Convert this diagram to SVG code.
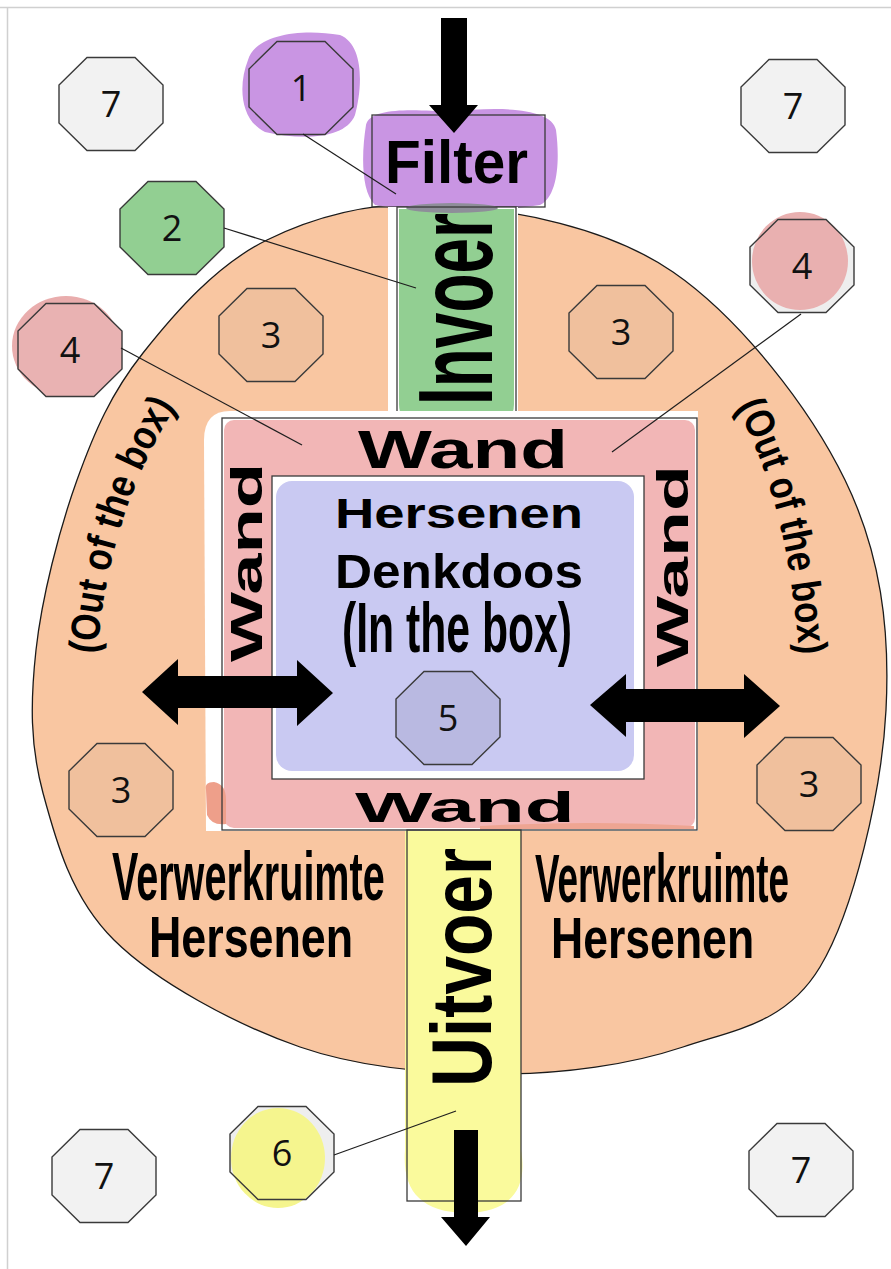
<svg xmlns="http://www.w3.org/2000/svg" width="891" height="1269" viewBox="0 0 891 1269">
<style>
.oct{stroke:#3a3a3a;stroke-width:1.4}
.num{font-family:"Open Sans","Noto Sans",sans-serif;font-size:36px;fill:#111;text-anchor:middle}
.lead{stroke:#1e1e1e;stroke-width:1.2;fill:none}
.box{fill:none;stroke:#3a3a3a;stroke-width:1.3}
.big{font-family:"Liberation Sans",Arial,sans-serif;font-weight:bold;fill:#000}
.arrow{fill:#000}
.peach{fill:#f9c6a1}
.pink{fill:#f2b6b6}
</style>
<defs>
<polygon id="octagon" points="-24,-46.5 24,-46.5 52,-19 52,19 24,46.5 -24,46.5 -52,19 -52,-19"/>
<path id="outL" d="M97,658 Q108,500 192,382"/>
<path id="outR" d="M733,402 Q790,500 800,670"/>
</defs>

<rect width="891" height="1269" fill="#fff"/>
<path d="M0,7.5H891M7.5,7V1269" stroke="#d0d0d0" stroke-width="1.5" fill="none"/>

<!-- head outline with painted fill -->
<g id="head">
<path class="peach" d="M446,205 C513.7,210.3 606.5,226.2 673,272 C739.5,317.8 809.5,407 845,480 C880.5,553 890.2,628.8 886,710 C881.8,791.2 853.8,910.8 820,967 C786.2,1023.2 736.3,1029.2 683,1047 C629.7,1064.8 563.8,1074 500,1074 C436.2,1074 364.3,1069.3 300,1047 C235.7,1024.7 156.8,982.3 114,940 C71.2,897.7 56,841.3 43,793 C30,744.7 30.3,702.2 36,650 C41.7,597.8 59.2,529.5 77,480 C94.8,430.5 111.3,393 143,353 C174.7,313 216.5,264.7 267,240 C317.5,215.3 378.3,199.7 446,205 Z" stroke="#1a1a1a" stroke-width="1.3"/>
<text class="big" font-size="41"><textPath href="#outL" startOffset="4" textLength="262" lengthAdjust="spacingAndGlyphs">(Out of the box)</textPath></text>
<text class="big" font-size="41"><textPath href="#outR" startOffset="6" textLength="258" lengthAdjust="spacingAndGlyphs">(Out of the box)</textPath></text>
<text class="big" transform="translate(112,900) scale(0.582,1)" font-size="68">Verwerkruimte</text>
<text class="big" transform="translate(149,957) scale(0.786,1)" font-size="57">Hersenen</text>
<text class="big" transform="translate(535,902) scale(0.542,1)" font-size="68">Verwerkruimte</text>
<text class="big" transform="translate(551,958) scale(0.782,1)" font-size="57">Hersenen</text>
</g>

<!-- filter at the entrance -->
<g id="filter">
<path d="M366,125 C370,106 420,110 450,112 C500,106 552,108 556,130 C560,160 558,196 540,205 C500,212 420,212 375,205 C360,190 362,150 366,125Z" fill="#c995e3"/>
<rect class="box" x="372" y="115" width="173" height="92"/>
<text class="big" transform="translate(385,183) scale(0.943,1)" font-size="62">Filter</text>
</g>

<!-- input channel -->
<g id="invoer">
<rect x="388" y="207" width="130" height="210" fill="#fff"/>
<path d="M399,209 H514 V404 Q514,423 495,423 H416 Q399,423 399,404 Z" fill="#92cf92"/>
<ellipse cx="452" cy="208" rx="46" ry="5" fill="#8e8e99"/>
<ellipse cx="455" cy="419" rx="55" ry="5" fill="#86aa80"/>
<rect class="box" x="397" y="207" width="119" height="210"/>
<text class="big" transform="translate(492,405) rotate(-90) scale(0.609,1)" font-size="105">Invoer</text>
</g>

<!-- wall around the thinking box -->
<g id="wand">
<path d="M204,440 Q204,411 230,411 H698 V831 H206 Z" fill="#fff"/>
<rect class="pink" x="224" y="420" width="471" height="408" rx="10"/>
<path d="M206,790 Q204,782 214,782 Q226,784 226,800 L226,824 Q212,826 207,815 Z" fill="#ee9f8a"/>
<path d="M480,826 Q590,820 694,826 L694,829 H480 Z" fill="#eea592"/>
<rect class="box" x="222" y="418" width="475" height="412"/>
<text class="big" transform="translate(358,468) scale(1.449,1)" font-size="54">Wand</text>
<text class="big" transform="translate(355,822) scale(1.905,1)" font-size="43">Wand</text>
<text class="big" transform="translate(262,662) rotate(-90) scale(1.649,1)" font-size="45">Wand</text>
<text class="big" transform="translate(688,667) rotate(-90) scale(1.711,1)" font-size="44">Wand</text>
</g>

<!-- thinking box -->
<g id="denkdoos">
<rect x="272" y="476" width="372" height="303" fill="#fff"/>
<rect x="276" y="481" width="358" height="290" rx="16" fill="#c9c9f2"/>
<rect class="box" x="272" y="476" width="372" height="303"/>
<text class="big" transform="translate(335,528) scale(1.296,1)" font-size="42">Hersenen</text>
<text class="big" transform="translate(335,588) scale(1.069,1)" font-size="48">Denkdoos</text>
<text class="big" transform="translate(342,652) scale(0.61,1)" font-size="70">(In the box)</text>
</g>

<!-- output channel -->
<g id="uitvoer">
<path d="M405,831 H521 V1150 C528,1190 510,1212 466,1213 C420,1212 402,1190 405,1150 Z" fill="#fafa9c"/>
<rect class="box" x="407" y="830" width="114" height="371"/>
<text class="big" transform="translate(491,1087) rotate(-90) scale(0.816,1)" font-size="85">Uitvoer</text>
</g>

<!-- numbered markers -->
<g id="m1">
<path d="M248,60 C255,35 300,28 340,35 C365,45 362,90 355,115 C345,140 300,140 265,132 C240,120 238,85 248,60Z" fill="#c995e3"/>
<use href="#octagon" x="301" y="88" class="oct" fill="#c995e3"/>
<text class="num" x="301" y="101">1</text>
</g>
<g id="m2">
<use href="#octagon" x="172" y="228" class="oct" fill="#92cf92"/>
<text class="num" x="172" y="241">2</text>
</g>
<g id="m3a">
<use href="#octagon" x="271" y="335" class="oct" fill="#f0c09d"/>
<text class="num" x="271" y="348">3</text>
</g>
<g id="m3b">
<use href="#octagon" x="621" y="332" class="oct" fill="#f0c09d"/>
<text class="num" x="621" y="345">3</text>
</g>
<g id="m3c">
<use href="#octagon" x="121" y="790" class="oct" fill="#f0c09d"/>
<text class="num" x="121" y="803">3</text>
</g>
<g id="m3d">
<use href="#octagon" x="809" y="784" class="oct" fill="#f0c09d"/>
<text class="num" x="809" y="797">3</text>
</g>
<g id="m4a">
<ellipse cx="66" cy="346" rx="54" ry="50" fill="#e9adad"/>
<use href="#octagon" x="70" y="350" class="oct" fill="#e9b2b2"/>
<text class="num" x="70" y="363">4</text>
</g>
<g id="m4b">
<use href="#octagon" x="802" y="266" fill="#eeeeee"/>
<ellipse cx="800" cy="261" rx="48" ry="49" fill="#e9b0b0"/>
<use href="#octagon" x="802" y="266" class="oct" fill="none"/>
<text class="num" x="802" y="279">4</text>
</g>
<g id="m5">
<use href="#octagon" x="448" y="718" class="oct" fill="#b9b9e1"/>
<text class="num" x="448" y="731">5</text>
</g>
<g id="m6">
<use href="#octagon" x="282" y="1153" fill="#eeeeee"/>
<ellipse cx="278" cy="1158" rx="47" ry="50" fill="#f5f58e"/>
<use href="#octagon" x="282" y="1153" class="oct" fill="none"/>
<text class="num" x="282" y="1166">6</text>
</g>
<g id="m7a">
<use href="#octagon" x="111" y="104" class="oct" fill="#f2f2f2"/>
<text class="num" x="111" y="117">7</text>
</g>
<g id="m7b">
<use href="#octagon" x="793" y="106" class="oct" fill="#f2f2f2"/>
<text class="num" x="793" y="119">7</text>
</g>
<g id="m7c">
<use href="#octagon" x="104" y="1176" class="oct" fill="#f2f2f2"/>
<text class="num" x="104" y="1189">7</text>
</g>
<g id="m7d">
<use href="#octagon" x="801" y="1170" class="oct" fill="#f2f2f2"/>
<text class="num" x="801" y="1183">7</text>
</g>

<!-- leader lines and flow arrows -->
<g id="connectors">
<line class="lead" x1="303" y1="134" x2="396" y2="194"/>
<line class="lead" x1="224" y1="228" x2="416" y2="288"/>
<line class="lead" x1="121" y1="348" x2="302" y2="445"/>
<line class="lead" x1="801" y1="314" x2="612" y2="452"/>
<line class="lead" x1="334" y1="1155" x2="456" y2="1111"/>
<polygon class="arrow" points="441,18 467,18 467,105 478,105 454,133 429,105 441,105"/>
<polygon class="arrow" points="454,1130 478,1130 478,1217 490,1217 466,1246 441,1217 454,1217"/>
<polygon class="arrow" points="142,692 178,659 178,676 297,676 297,660 333,693 297,726 297,708 178,708 178,725"/>
<polygon class="arrow" points="590,705 626,674 626,689 744,689 744,674 780,706 744,738 744,722 626,722 626,737"/>
</g>
</svg>
